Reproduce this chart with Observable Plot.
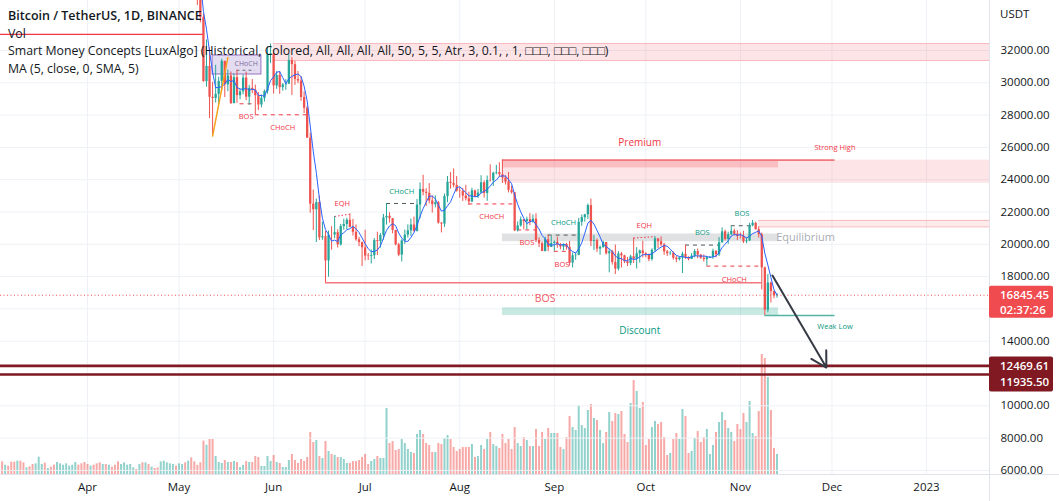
<!DOCTYPE html>
<html><head><meta charset="utf-8">
<script src="https://cdn.jsdelivr.net/npm/d3@7"></script>
<script src="https://cdn.jsdelivr.net/npm/@observablehq/plot@0.6"></script>
<style>
html,body{margin:0;padding:0;background:#fff;}
#wrap{position:relative;width:1059px;height:501px;overflow:hidden;font-family:"Open Sans",sans-serif;}
.layer{position:absolute;left:0;top:0;}
#legend{position:absolute;left:8px;top:7px;font-size:12.3px;line-height:17.5px;color:#131722;white-space:nowrap;pointer-events:none;}
#legend .t{font-weight:600;font-size:12.5px;}
</style></head><body>
<div id="wrap">
 <div id="volLayer" class="layer"></div>
 <div id="priceLayer" class="layer"></div>
 <div id="legend">
  <div class="t">Bitcoin / TetherUS, 1D, BINANCE</div>
  <div>Vol</div>
  <div>Smart Money Concepts [LuxAlgo] (Historical, Colored, All, All, All, All, 50, 5, 5, Atr, 3, 0.1, , 1, □□□, □□□, □□□)</div>
  <div>MA (5, close, 0, SMA, 5)</div>
 </div>
</div>
<script>
// ---------- DATA ----------
const candleStart = "2022-05-01";   // daily candles, May 1 → Nov 13 2022
const open = [
 37630,38469,38529,37750,39690,36552,36014,35468,34038,30076,31017,29103,29030,29287,30086,31329,29874,30425,28715,30320,29201,29445,30294,29110,29655,29543,29202,28628,29032,29469,31734,
 31801,29805,30452,29700,29865,29920,31373,31125,30205,30110,29091,28424,26574,22487,22136,22583,20401,20468,18970,20574,20573,20720,19965,21100,21227,21490,21038,20742,20281,20105,
 19785,19270,19243,19297,20232,20176,20548,21637,21731,21587,20855,19970,19330,20212,20570,20830,21195,20799,22432,23396,23223,23153,22684,22451,22579,21310,21254,22952,23843,23774,23644,
 23293,23268,22988,22818,22622,23313,22954,23175,23810,23149,23954,23935,24403,24442,24306,24102,23854,23342,23191,20834,21140,21516,21400,21529,21368,21560,20241,20037,19555,20285,19811,
 20050,20131,19951,19832,19987,19813,18838,19291,19320,21361,21651,21826,22395,20174,20226,19701,19803,20113,19416,19537,18875,18461,19401,19289,18920,18807,19227,19079,19412,19591,
 19422,19310,19056,19629,20337,20158,19960,19531,19417,19446,19141,19051,19157,19382,19185,19068,19268,19550,19334,19139,19053,19172,19208,19567,19345,20095,20771,20295,20591,20810,20627,
 20491,20483,20151,20207,21148,21299,20905,20591,18542,15922,17601,17070,16812];
const high = [
 38675,39167,38653,40023,39845,36675,36146,35510,34243,32658,32162,30033,31083,30343,31460,31329,30788,30669,30545,30777,29588,30487,30657,29840,30200,29858,29398,29250,29550,32222,32399,
 31982,30690,30699,29955,30189,31765,31557,31326,30700,30383,29440,28544,26883,23362,22800,22980,21365,20800,20815,21090,21723,20900,21233,21550,21614,21868,21540,21200,20432,20142,
 20876,19430,19647,20354,20750,20675,21850,22527,21955,21600,20868,20060,20280,20882,21200,21561,21684,22777,23800,24276,23442,23757,22998,22999,22655,21347,23112,24199,24442,24668,24194,
 23510,23459,23648,23223,23472,23354,23400,24245,23925,24227,24918,24456,24888,25047,25211,24247,24446,23600,23208,21382,21692,21522,21678,21900,21819,21886,20402,20148,20433,20571,20490,
 20208,20444,20055,20029,20058,20180,19464,19458,21600,21810,21860,22488,22799,20541,20330,19890,20189,20117,19686,19634,19956,19550,19500,19316,19180,19316,20385,19790,19645,20185,
 19484,19395,19719,20475,20365,20456,20060,19627,19560,19528,19267,19214,19513,19951,19228,19424,19676,19706,19360,19345,19250,19249,19695,19601,20413,21020,20876,20750,21085,20929,20845,
 20700,20800,20393,21302,21480,21365,21069,20700,18590,18136,17656,17099,16955];
const low = [
 37386,38053,37500,37670,35571,35258,34785,33713,30033,29730,27785,26700,28751,28630,29480,29087,29450,28654,28693,28730,28947,29255,28894,28600,29327,28019,28282,28450,28811,29300,31200,
 29301,29594,29282,29485,29531,29894,29218,29843,29944,28850,28099,26560,21925,20846,20111,20232,20246,17622,17960,19637,20348,19770,19891,20870,20906,21024,20510,20186,19854,18626,
 18975,19000,18781,19055,19305,19761,20245,21192,21320,20650,19900,19235,18910,19995,20382,20484,20758,20762,21581,23000,22340,22500,21934,22257,21250,20706,21042,22582,23414,23503,23227,
 22850,22654,22681,22400,22586,22909,22840,23154,22865,22664,23852,23583,24296,24140,23773,23671,23180,23111,20783,20761,21060,20891,20890,21152,21310,20107,19800,19550,19526,19540,19797,
 19565,19753,19655,19597,19635,18650,18540,19012,19295,21111,21370,21538,19860,19617,19497,19320,19748,19335,18232,18711,18125,18355,18531,18805,18629,18680,18816,18471,18843,19155,
 19160,18920,18959,19490,19730,19853,19320,19250,19314,19020,18860,18965,18190,19070,18975,19063,19160,19100,19071,18900,18650,19132,19068,19157,19243,20061,20200,20000,20558,20515,20237,
 20330,20048,20031,20180,21080,20880,20385,17166,15588,15754,16361,16631,16664];
const close = [
 38469,38529,37750,39690,36552,36014,35468,34038,30076,31017,29103,29030,29287,30086,31329,29874,30425,28715,30320,29201,29445,30294,29110,29655,29543,29202,28628,29032,29469,31734,31801,
 29805,30452,29700,29865,29920,31373,31125,30205,30110,29091,28424,26574,22487,22136,22583,20401,20468,18970,20574,20573,20720,19965,21100,21227,21490,21038,20742,20281,20105,19785,
 19270,19243,19297,20232,20176,20548,21637,21731,21587,20855,19970,19330,20212,20570,20830,21195,20799,22432,23396,23223,23153,22684,22451,22579,21310,21254,22952,23843,23774,23644,23293,
 23268,22988,22818,22622,23313,22954,23175,23810,23149,23954,23935,24403,24442,24306,24102,23854,23342,23191,20834,21140,21516,21400,21529,21368,21560,20241,20037,19555,20285,19811,20050,
 20131,19951,19832,19987,19813,18838,19291,19320,21361,21651,21826,22395,20174,20226,19701,19803,20113,19416,19537,18875,18461,19401,19289,18920,18807,19227,19079,19412,19591,19422,
 19310,19056,19629,20337,20158,19960,19531,19417,19446,19141,19051,19157,19382,19185,19068,19268,19550,19334,19139,19053,19172,19208,19567,19345,20095,20771,20295,20591,20810,20627,20491,
 20483,20151,20207,21148,21299,20905,20591,18542,15922,17601,17070,16812,16845.45];

const volumeStart = "2022-03-04";   // daily volume (K BTC), Mar 4 → Nov 13 2022
const volume = [
 76,56,50,74,74,80,80,70,40,46,60,64,104,60,68,36,44,56,72,64,56,64,50,56,72,56,64,72,60,50,56,64,70,60,60,56,44,56,76,60,70,56,60,40,30,60,70,70,60,44,36,40,76,80,70,64,60,50,
 64,60,70,80,100,76,55,70,200,175,210,210,108,72,66,84,72,72,78,72,42,54,78,72,72,108,102,48,48,108,78,
 114,72,66,42,42,84,120,84,66,90,78,102,252,192,204,108,96,198,138,120,114,102,102,90,66,66,78,78,84,102,
 120,60,78,90,108,96,96,396,186,198,144,150,210,186,150,132,126,240,264,240,186,174,132,132,186,180,216,234,210,162,138,
 150,162,162,162,180,102,108,174,150,210,252,180,168,156,240,186,210,150,282,186,168,222,204,168,168,270,168,252,210,276,246,
 246,246,162,150,222,348,282,264,414,294,276,384,420,336,324,264,186,252,372,318,366,360,378,240,192,426,564,498,396,432,
 174,210,282,318,300,312,222,114,126,210,246,210,390,348,126,138,216,258,192,222,270,120,174,252,312,372,324,276,252,198,300,
 270,366,312,438,246,228,378,720,696,582,384,156,120];
// direction of the volume bars before the first drawn candle (1 = up, 0 = down), Mar 4 → Apr 30
const volumeUpEarly = [0,1,0,0,0,1,0,0,1,0, 0,1,1,1,0,1,0,0,1,1, 1,1,1,1,1,0,0,0,0,1, 0,0,0,1,0,1,0,0,0,1, 1,1,1,1,0,1,0,1,0,1, 0,0,1,1,1,1,1,0];

const priceTicks = [6000,8000,10000,12000,14000,16000,18000,20000,22000,24000,26000,28000,30000,32000];
const hiddenTickLabels = [12000, 16000];   // covered by the price badges
const monthTicks = ["2022-04-01","2022-05-01","2022-06-01","2022-07-01","2022-08-01","2022-09-01","2022-10-01","2022-11-01","2022-12-01","2023-01-01"];
const lastPrice = 16845.45;
const countdown = "02:37:26";
const targetLevels = [12469.61, 11935.50];
const axisUnit = "USDT";

// Smart Money Concepts structures
const oldHigh = [{from:"2022-03-01", to:"2022-05-09", level:33000}];
const topBlock = [{from:"2022-06-01", to:"2023-02-01", top:32430, bottom:31380}];
const supplyBlock = [{from:"2022-08-15", to:"2023-02-01", top:25211, bottom:23773}];
const premiumZone = [{from:"2022-08-15", to:"2022-11-13T12:00", top:25211, bottom:24730}];
const equilibriumZone = [{from:"2022-08-15", to:"2022-11-13T12:00", top:20640, bottom:20159}];
const discountZone = [{from:"2022-08-15", to:"2022-11-13T12:00", top:16069, bottom:15588}];
const novBlock = [{from:"2022-11-07", to:"2023-02-01", top:21480, bottom:21080}];
const internalBox = [{from:"2022-05-12", to:"2022-05-28", top:31690, bottom:30514}];
const strongLow = [{from:"2022-06-18", to:"2022-11-08", level:17622}];
const strongHigh = [{from:"2022-08-15", to:"2022-12-02", level:25211}];
const weakLow = [{from:"2022-11-09", to:"2022-12-02", level:15588}];
const bearishBreaks = [
 {from:"2022-05-21", to:"2022-05-25", level:28700, label:"BOS"},
 {from:"2022-05-26", to:"2022-06-13", level:28019, label:"CHoCH"},
 {from:"2022-08-04", to:"2022-08-19", level:22500, label:"CHoCH"},
 {from:"2022-08-20", to:"2022-08-26", level:20890, label:"BOS"},
 {from:"2022-09-01", to:"2022-09-06", level:19565, label:"BOS"},
 {from:"2022-10-21", to:"2022-11-08", level:18650, label:"CHoCH"}];
const bullishBreaks = [
 {from:"2022-07-08", to:"2022-07-18", level:22527, label:"CHoCH"},
 {from:"2022-08-30", to:"2022-09-09", level:20571, label:"CHoCH"},
 {from:"2022-10-14", to:"2022-10-25", level:19951, label:"BOS"},
 {from:"2022-10-29", to:"2022-11-05", level:21150, label:"BOS"}];
const internalBreaks = [{from:"2022-05-20", to:"2022-05-26", level:30777, label:"CHoCH"}];
const equalHighs = [
 {from:"2022-06-21", to:"2022-06-26", p1:21723, p2:21868, label:"EQH"},
 {from:"2022-09-27", to:"2022-10-04", p1:20385, p2:20475, label:"EQH"}];
const swingLeg = [{date:"2022-05-12", price:26700}, {date:"2022-05-17", price:31560}];
const premiumTitle = [{date:"2022-09-29", level:25211, text:"Premium"}];
const discountTitle = [{date:"2022-09-29", level:15588, text:"Discount"}];
const strongHighTitle = [{date:"2022-12-02", level:25211, text:"Strong High"}];
const weakLowTitle = [{date:"2022-12-02", level:15588, text:"Weak Low"}];
const equilibriumTitle = [{date:"2022-12-02", level:20400, text:"Equilibrium"}];
const bigBos = [{date:"2022-08-29", level:16644, text:"BOS"}];
const projection = [{from:"2022-11-11T12:00", p1:18070, to:"2022-11-29T04:00", p2:12370}];

// ---------- BUILD ----------
const DAY = 864e5;
const t0 = Date.parse(candleStart);
const candles = open.map((o, i) => ({date: new Date(t0 + i * DAY), open: o, high: high[i], low: low[i], close: close[i]}));
const v0 = Date.parse(volumeStart);
const vols = volume.map((v, i) => {
  const date = new Date(v0 + i * DAY);
  const ci = Math.round((date - t0) / DAY);
  const up = ci >= 0 ? close[ci] >= open[ci] : volumeUpEarly[i] === 1;
  return {date, v, up};
});
const D = s => new Date(s.length <= 10 ? s + "T00:00:00Z" : s + "Z");
const mid = d => new Date((+D(d.from) + +D(d.to)) / 2);

const UP = "#26a69a", DOWN = "#ef5350", RED = "#f23645", TEAL = "#089981";
const W = 1059, H = 501, MR = 70, MB = 27;
const xDomain = [new Date("2022-03-03T11:38:00Z"), new Date("2023-01-21T15:22:00Z")];
const yDomain = [5746, 35096];
const font = "Open Sans, sans-serif";

const volPlot = Plot.plot({
  width: W, height: H, marginLeft: 0, marginRight: MR, marginTop: 0, marginBottom: MB,
  style: {fontFamily: font, background: "transparent", color: "#131722"},
  x: {type: "utc", domain: xDomain, axis: null},
  y: {domain: [0, 2844], axis: null},
  marks: [
    Plot.gridX(monthTicks.map(D), {stroke: "#eef1f6", strokeOpacity: 1}),
    Plot.ruleX(vols, {x: "date", y1: 0, y2: "v", stroke: d => d.up ? "rgba(38,166,154,0.5)" : "rgba(239,83,80,0.5)", strokeWidth: 2}),
    Plot.axisX({ticks: monthTicks.map(D), tickSize: 0, tickPadding: 8, label: null, fontSize: 11.5,
      tickFormat: d => d.getUTCMonth() === 0 ? String(d.getUTCFullYear()) : d3.utcFormat("%b")(d)})
  ]
});
document.getElementById("volLayer").append(volPlot);

const zone = (data, opts) => Plot.rect(data, {x1: d => D(d.from), x2: d => D(d.to), y1: "bottom", y2: "top", clip: true, ...opts});
const hline = (data, opts) => Plot.ruleY(data, {y: "level", x1: d => D(d.from), x2: d => D(d.to), clip: true, ...opts});
const label = (data, opts) => Plot.text(data, {x: d => D(d.date), y: "level", text: "text", ...opts});

const pricePlot = Plot.plot({
  width: W, height: H, marginLeft: 0, marginRight: MR, marginTop: 0, marginBottom: MB,
  style: {fontFamily: font, background: "transparent", color: "#131722", overflow: "visible"},
  x: {type: "utc", domain: xDomain, axis: null},
  y: {domain: yDomain, axis: null},
  color: {type: "identity"},
  marks: [
    Plot.gridY(priceTicks, {stroke: "#eef1f6", strokeOpacity: 1}),
    zone(topBlock, {fill: "#f23645", fillOpacity: 0.13}),
    hline(topBlock.map(d => ({...d, level: d.top})), {stroke: "#f7b9bd", strokeWidth: 1}),
    hline(topBlock.map(d => ({...d, level: d.bottom})), {stroke: "#f7b9bd", strokeWidth: 1}),
    zone(supplyBlock, {fill: "#f23645", fillOpacity: 0.13}),
    zone(premiumZone, {fill: "#f23645", fillOpacity: 0.22}),
    zone(equilibriumZone, {fill: "#878b94", fillOpacity: 0.26}),
    zone(discountZone, {fill: "#089981", fillOpacity: 0.22}),
    zone(novBlock, {fill: "#f23645", fillOpacity: 0.1}),
    hline(novBlock.map(d => ({...d, level: d.top})), {stroke: "#f7b9bd", strokeWidth: 1}),
    hline(novBlock.map(d => ({...d, level: d.bottom})), {stroke: "#f7b9bd", strokeWidth: 1}),
    zone(internalBox, {fill: "#b39ddb", fillOpacity: 0.35, stroke: "#9670c2", strokeWidth: 1}),
    hline(oldHigh, {stroke: RED, strokeWidth: 1.2}),
    hline(strongLow, {stroke: "#f0787e", strokeWidth: 1.6}),
    hline(strongHigh, {stroke: "#f0787e", strokeWidth: 1.6}),
    hline(weakLow, {stroke: "#56b4a4", strokeWidth: 1.6}),
    hline(bearishBreaks, {stroke: RED, strokeDasharray: "4,4", strokeWidth: 1}),
    hline(bullishBreaks, {stroke: "#4d5a58", strokeDasharray: "4,4", strokeWidth: 1}),
    hline(internalBreaks, {stroke: "#6a6d78", strokeDasharray: "3,3", strokeWidth: 1}),
    Plot.link(equalHighs, {x1: d => D(d.from), y1: "p1", x2: d => D(d.to), y2: "p2", stroke: RED, strokeDasharray: "1.5,2", strokeWidth: 1}),
    Plot.ruleX(candles, {x: "date", y1: "low", y2: "high", stroke: d => d.close >= d.open ? UP : DOWN, strokeWidth: 1, clip: true}),
    Plot.ruleX(candles, {x: "date", y1: "open", y2: "close", stroke: d => d.close >= d.open ? UP : DOWN, strokeWidth: 2.3, clip: true}),
    Plot.lineY(candles, Plot.windowY({k: 5, anchor: "end", reduce: "mean"}, {x: "date", y: "close", stroke: "#2962ff", strokeWidth: 1, clip: true})),
    Plot.line(swingLeg, {x: d => D(d.date), y: "price", stroke: "#f7a21b", strokeWidth: 1.5}),
    Plot.ruleY([lastPrice], {stroke: DOWN, strokeDasharray: "1,2.5", strokeWidth: 1}),
    Plot.ruleY(targetLevels, {stroke: "#801922", strokeWidth: 2.6}),
    Plot.arrow(projection, {x1: d => D(d.from), y1: "p1", x2: d => D(d.to), y2: "p2", stroke: "#363a45", strokeWidth: 2, headLength: 13}),
    Plot.text(bearishBreaks, {x: mid, y: "level", text: "label", dy: 13, fill: RED, fontSize: 7.5}),
    Plot.text(bullishBreaks, {x: mid, y: "level", text: "label", dy: -12, fill: TEAL, fontSize: 7.5}),
    Plot.text(internalBreaks, {x: mid, y: "level", text: "label", dy: -7, fill: "#7d6a9c", fontSize: 7}),
    Plot.text(equalHighs, {x: mid, y: d => (d.p1 + d.p2) / 2, text: "label", dy: -12, fill: RED, fontSize: 7.5}),
    label(premiumTitle, {dy: -17, fill: RED, fontSize: 10}),
    label(discountTitle, {dy: 15, fill: TEAL, fontSize: 10}),
    label(strongHighTitle, {dy: -13, fill: RED, fontSize: 7.5}),
    label(weakLowTitle, {dy: 11, fill: TEAL, fontSize: 7.5}),
    label(equilibriumTitle, {textAnchor: "end", fill: "#a9acb5", fontSize: 11}),
    label(bigBos, {fill: "#f0606a", fontSize: 10.5}),
    Plot.axisY({anchor: "right", ticks: priceTicks.filter(t => !hiddenTickLabels.includes(t)), tickFormat: d => d.toFixed(2), tickSize: 0, tickPadding: 11, label: null, fontSize: 11.5})
  ]
});
document.getElementById("priceLayer").append(pricePlot);

// price scale badges & panel separators (positioned through the plot's own y scale)
const sy = pricePlot.scale("y");
const svg = d3.select(pricePlot);
svg.append("line").attr("x1", W - MR + 0.5).attr("x2", W - MR + 0.5).attr("y1", 0).attr("y2", H).attr("stroke", "#e0e3eb");
svg.append("line").attr("x1", 0).attr("x2", W).attr("y1", H - MB + 0.5).attr("y2", H - MB + 0.5).attr("stroke", "#e0e3eb");
svg.append("text").attr("x", W - MR + 11).attr("y", 14).attr("dy", "0.35em").attr("text-anchor", "start")
   .attr("font-size", 11.5).attr("fill", "#131722").text(axisUnit);
const g = svg.append("g").attr("font-size", 11.5).attr("font-weight", 600).attr("fill", "#fff").attr("text-anchor", "start");
const yl = sy.apply(lastPrice);
g.append("rect").attr("x", W - MR).attr("y", yl - 9).attr("width", 64).attr("height", 32).attr("rx", 2).attr("fill", "#f04b4f");
g.append("text").attr("x", W - MR + 11).attr("y", yl).attr("dy", "0.35em").text(lastPrice.toFixed(2));
g.append("text").attr("x", W - MR + 11).attr("y", yl + 15).attr("dy", "0.35em").text(countdown);
const yt = sy.apply(targetLevels[0]);
g.append("rect").attr("x", W - MR).attr("y", yt - 9).attr("width", 64).attr("height", 35).attr("rx", 2).attr("fill", "#801922");
g.append("text").attr("x", W - MR + 11).attr("y", yt + 0.5).attr("dy", "0.35em").text(targetLevels[0].toFixed(2));
g.append("text").attr("x", W - MR + 11).attr("y", yt + 16.5).attr("dy", "0.35em").text(targetLevels[1].toFixed(2));
</script>
</body></html>
